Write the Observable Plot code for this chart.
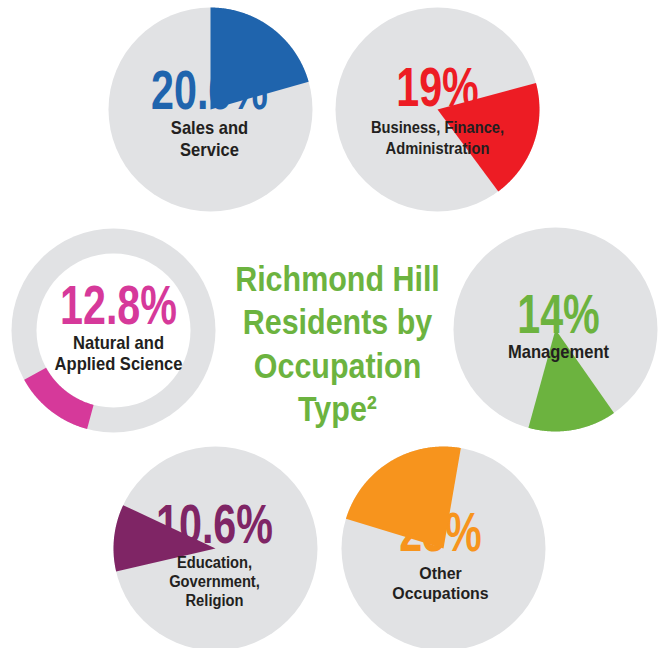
<!DOCTYPE html>
<html>
<head>
<meta charset="utf-8">
<script src="https://cdn.jsdelivr.net/npm/d3@7"></script>
<script src="https://cdn.jsdelivr.net/npm/@observablehq/plot@0.6"></script>
<style>
  html, body { margin: 0; padding: 0; background: #ffffff; overflow: hidden; }
  #chart svg { display: block; }
</style>
</head>
<body>
<div id="chart"></div>
<script>
// ---- data ----
const categories = ["Sales and Service", "Business, Finance, Administration", "Management", "Natural and Applied Science", "Education, Government, Religion", "Other Occupations"];
const shares = [20.6, 19, 14, 12.8, 10.6, 23];
const shareLabels = ["20.6%", "19%", "14%", "12.8%", "10.6%", "23%"];
const labelLines = [["Sales and", "Service"], ["Business, Finance,", "Administration"], ["Management"], ["Natural and", "Applied Science"], ["Education,", "Government,", "Religion"], ["Other", "Occupations"]];
const titleLines = ["Richmond Hill", "Residents by", "Occupation", "Type\u00B2"];

// ---- styles & layout ----
const colors = ["#1f64ad", "#ed1c24", "#6cb33f", "#d6399a", "#7f2565", "#f7941d"];
const gray = "#e1e2e4";
const dark = "#231f20";
const titleColor = "#6cb33f";
const font = "'Liberation Sans', Arial, sans-serif";
const layout = [
  {cx: 210, cy: 109, start: 0,   kind: "pie",  tx: 209, pctY: 108, labY: 133, lh: 22.5, fs: 18},
  {cx: 437, cy: 109, start: 75,  kind: "pie",  tx: 437, pctY: 105, labY: 132, lh: 21,   fs: 16},
  {cx: 555, cy: 329, start: 145, kind: "pie",  tx: 558, pctY: 332, labY: 357, lh: 21,   fs: 18},
  {cx: 113, cy: 330, start: 195, kind: "ring", tx: 118, pctY: 323, labY: 348, lh: 21,   fs: 18},
  {cx: 215, cy: 548, start: 257, kind: "pie",  tx: 214, pctY: 542, labY: 567, lh: 19,   fs: 16},
  {cx: 443, cy: 548, start: 287, kind: "pie",  tx: 440, pctY: 550, labY: 578, lh: 20,   fs: 17.3}
];
const R = 102, RIN = 77;

const items = categories.map((name, i) => ({name, share: shares[i], pct: shareLabels[i], color: colors[i], ...layout[i]}));

// wedge outlines computed from the shares
function wedge(d) {
  const a0 = d.start, a1 = d.start + d.share * 3.6;
  const angles = d3.range(a0, a1, 0.5).concat([a1]);
  const pt = (a, r) => ({name: d.name, x: d.cx + r * Math.sin(a * Math.PI / 180), y: d.cy - r * Math.cos(a * Math.PI / 180)});
  const outer = angles.map(a => pt(a, R));
  if (d.kind === "ring") {
    const inner = angles.slice().reverse().map(a => pt(a, RIN));
    return outer.concat(inner);
  }
  return [pt(0, 0)].concat(outer);
}

const labelRows = d => labelLines[categories.indexOf(d.name)].map((t, j) => ({t, x: d.tx, y: d.labY + j * d.lh}));
const titleRows = titleLines.map((t, i) => ({t, y: 290 + i * 43.5}));

const chart = Plot.plot({
  width: 661,
  height: 648,
  margin: 0,
  x: {domain: [0, 661], range: [0, 661], axis: null},
  y: {domain: [0, 648], range: [0, 648], axis: null},
  marks: [
    Plot.dot(items, {x: "cx", y: "cy", r: R, fill: gray, stroke: "none"}),
    Plot.dot(items.filter(d => d.kind === "ring"), {x: "cx", y: "cy", r: RIN, fill: "white", stroke: "none"}),
    ...items.map(d => Plot.text([d], {x: "tx", y: "pctY", text: "pct", fill: d.color, fontSize: 55, fontWeight: "bold", fontFamily: font, textAnchor: "middle", lineAnchor: "bottom"})),
    ...items.map(d => Plot.line(wedge(d), {x: "x", y: "y", fill: d.color, stroke: "none", curve: "linear"})),
    ...items.map(d => Plot.text(labelRows(d), {x: "x", y: "y", text: "t", fill: dark, fontSize: d.fs, fontWeight: "bold", fontFamily: font, textAnchor: "middle", lineAnchor: "bottom"})),
    Plot.text(titleRows, {x: () => 337, y: "y", text: "t", fill: titleColor, fontSize: 35, fontWeight: "bold", fontFamily: font, textAnchor: "middle", lineAnchor: "bottom"})
  ]
});

// condense the glyphs horizontally (the original uses a condensed typeface)
chart.querySelectorAll("g[aria-label=text]").forEach(g => {
  const fs = +g.getAttribute("font-size");
  const s = fs >= 50 ? 0.75 : fs >= 30 ? 0.87 : 0.92;
  g.querySelectorAll("text").forEach(t => {
    const tr = t.getAttribute("transform");
    if (tr) {
      t.setAttribute("transform", tr + ` scale(${s},1)`);
    } else {
      const x = +(t.getAttribute("x") || 0), y = +(t.getAttribute("y") || 0);
      t.removeAttribute("x"); t.removeAttribute("y");
      t.setAttribute("transform", `translate(${x},${y}) scale(${s},1)`);
    }
  });
});
document.getElementById("chart").appendChild(chart);
</script>
</body>
</html>
